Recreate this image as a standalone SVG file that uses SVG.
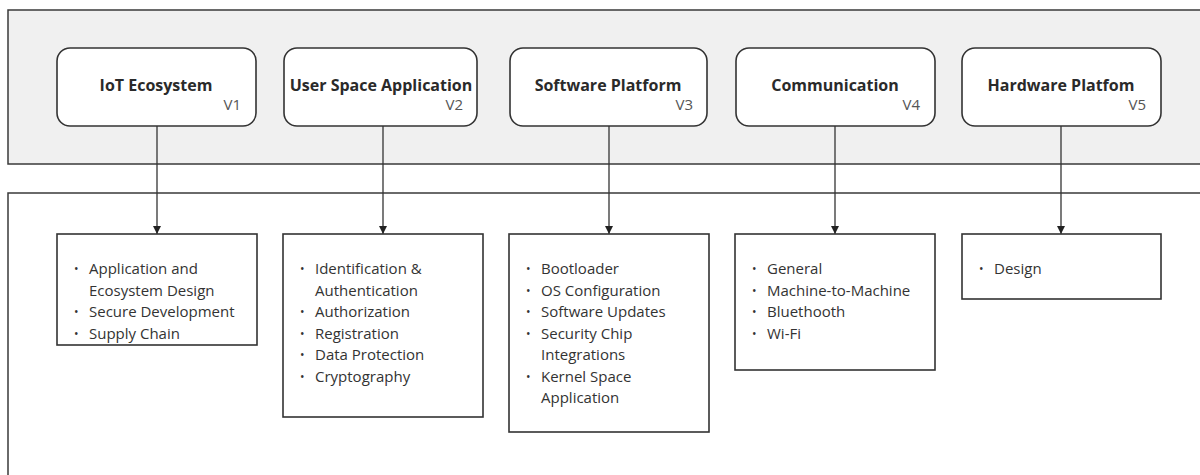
<svg xmlns="http://www.w3.org/2000/svg" width="1200" height="475" viewBox="0 0 1200 475">
  <defs>
    <marker id="arrow" viewBox="0 0 10 10" refX="10" refY="5" markerWidth="8" markerHeight="10" markerUnits="userSpaceOnUse" orient="auto">
      <path d="M0,0 L10,5 L0,10 Z" fill="#222"/>
    </marker>
    <style>
      .band { stroke: #3a3a3a; stroke-width: 1.5; }
      .node { fill: #ffffff; stroke: #333; stroke-width: 1.6; }
      .list { fill: #ffffff; stroke: #333; stroke-width: 1.6; }
      .title { font-family: "Open Sans", "DejaVu Sans", sans-serif; font-size: 16px; font-weight: 700; fill: #2a2a2a; text-anchor: middle; }
      .ver { font-family: "Open Sans", "DejaVu Sans", sans-serif; font-size: 15px; fill: #555; text-anchor: end; }
      .item { font-family: "Open Sans", "DejaVu Sans", sans-serif; font-size: 15px; fill: #333; }
      .dot { font-family: "Open Sans", "DejaVu Sans", sans-serif; font-size: 12px; fill: #333; }
      .link { stroke: #333; stroke-width: 1.3; fill: none; marker-end: url(#arrow); }
    </style>
  </defs>

  <!-- background bands -->
  <rect class="band" x="8" y="10" width="1200" height="154" fill="#f0f0f0"/>
  <rect class="band" x="8" y="193" width="1200" height="300" fill="#ffffff"/>

  <!-- connectors -->
  <g id="connectors">
    <line class="link" x1="157" y1="126" x2="157" y2="234"/>
    <line class="link" x1="383" y1="126" x2="383" y2="234"/>
    <line class="link" x1="609" y1="126" x2="609" y2="234"/>
    <line class="link" x1="835" y1="126" x2="835" y2="234"/>
    <line class="link" x1="1061" y1="126" x2="1061" y2="234"/>
  </g>

  <!-- layer nodes -->
  <g id="v1">
    <rect class="node" x="57" y="48" width="199" height="78" rx="13"/>
    <text class="title" x="156" y="91">IoT Ecosystem</text>
    <text class="ver" x="241" y="110">V1</text>
  </g>
  <g id="v2">
    <rect class="node" x="284" y="48" width="193" height="78" rx="13"/>
    <text class="title" x="381" y="91">User Space Application</text>
    <text class="ver" x="463" y="110">V2</text>
  </g>
  <g id="v3">
    <rect class="node" x="510" y="48" width="197" height="78" rx="13"/>
    <text class="title" x="608" y="91">Software Platform</text>
    <text class="ver" x="693" y="110">V3</text>
  </g>
  <g id="v4">
    <rect class="node" x="736" y="48" width="199" height="78" rx="13"/>
    <text class="title" x="835" y="91">Communication</text>
    <text class="ver" x="920" y="110">V4</text>
  </g>
  <g id="v5">
    <rect class="node" x="962" y="48" width="199" height="78" rx="13"/>
    <text class="title" x="1061" y="91">Hardware Platfom</text>
    <text class="ver" x="1146" y="110">V5</text>
  </g>

  <!-- topic lists -->
  <g id="list-v1">
    <rect class="list" x="57" y="234" width="200" height="111"/>
    <text class="dot" x="74" y="273">•</text>
    <text class="item" x="89" y="274">Application and</text>
    <text class="item" x="89" y="295.5">Ecosystem Design</text>
    <text class="dot" x="74" y="316">•</text>
    <text class="item" x="89" y="317">Secure Development</text>
    <text class="dot" x="74" y="337.5">•</text>
    <text class="item" x="89" y="338.5">Supply Chain</text>
  </g>
  <g id="list-v2">
    <rect class="list" x="283" y="234" width="200" height="183"/>
    <text class="dot" x="300" y="273">•</text>
    <text class="item" x="315" y="274">Identification &amp;</text>
    <text class="item" x="315" y="295.5">Authentication</text>
    <text class="dot" x="300" y="316">•</text>
    <text class="item" x="315" y="317">Authorization</text>
    <text class="dot" x="300" y="337.5">•</text>
    <text class="item" x="315" y="338.5">Registration</text>
    <text class="dot" x="300" y="359">•</text>
    <text class="item" x="315" y="360">Data Protection</text>
    <text class="dot" x="300" y="380.5">•</text>
    <text class="item" x="315" y="381.5">Cryptography</text>
  </g>
  <g id="list-v3">
    <rect class="list" x="509" y="234" width="200" height="198"/>
    <text class="dot" x="526" y="273">•</text>
    <text class="item" x="541" y="274">Bootloader</text>
    <text class="dot" x="526" y="294.5">•</text>
    <text class="item" x="541" y="295.5">OS Configuration</text>
    <text class="dot" x="526" y="316">•</text>
    <text class="item" x="541" y="317">Software Updates</text>
    <text class="dot" x="526" y="337.5">•</text>
    <text class="item" x="541" y="338.5">Security Chip</text>
    <text class="item" x="541" y="360">Integrations</text>
    <text class="dot" x="526" y="380.5">•</text>
    <text class="item" x="541" y="381.5">Kernel Space</text>
    <text class="item" x="541" y="403">Application</text>
  </g>
  <g id="list-v4">
    <rect class="list" x="735" y="234" width="200" height="136"/>
    <text class="dot" x="752" y="273">•</text>
    <text class="item" x="767" y="274">General</text>
    <text class="dot" x="752" y="294.5">•</text>
    <text class="item" x="767" y="295.5">Machine-to-Machine</text>
    <text class="dot" x="752" y="316">•</text>
    <text class="item" x="767" y="317">Bluethooth</text>
    <text class="dot" x="752" y="337.5">•</text>
    <text class="item" x="767" y="338.5">Wi-Fi</text>
  </g>
  <g id="list-v5">
    <rect class="list" x="962" y="234" width="199" height="65"/>
    <text class="dot" x="979" y="273">•</text>
    <text class="item" x="994" y="274">Design</text>
  </g>
</svg>
